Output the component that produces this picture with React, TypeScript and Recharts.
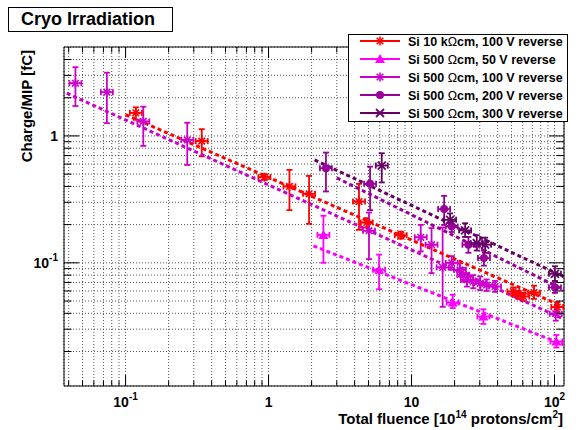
import React from "react";
import { ScatterChart, Scatter, XAxis, YAxis, CartesianGrid, ErrorBar, ReferenceArea } from "recharts";

const FONT = '"Liberation Sans", Arial, Helvetica, sans-serif';
const W = 585;
const H = 430;
const LEFT = 64, TOP = 47, RIGHT = 564, BOTTOM = 386;

const X_DOMAIN = [0.0371, 116.5];
const Y_DOMAIN = [0.0107, 5.02];

const xTicks = [0.04, 0.05, 0.06, 0.07, 0.08, 0.09, 0.1, 0.2, 0.3, 0.4, 0.5, 0.6, 0.7, 0.8, 0.9,
    1, 2, 3, 4, 5, 6, 7, 8, 9, 10, 20, 30, 40, 50, 60, 70, 80, 90, 100];
const yTicks = [0.02, 0.03, 0.04, 0.05, 0.06, 0.07, 0.08, 0.09, 0.1, 0.2, 0.3, 0.4, 0.5, 0.6, 0.7, 0.8, 0.9, 1, 2, 3, 4];

// Si 10 kOhm cm, 100 V
const si10kX = [0.118, 0.341, 0.935, 1.40, 1.92, 4.29, 4.86, 8.4, 51.5, 55.9, 60.5, 71.9, 104.6];
const si10kY = [1.52, 0.91, 0.473, 0.40, 0.35, 0.304, 0.208, 0.165, 0.0594, 0.056, 0.0543, 0.0583, 0.0448];
const si10kLo = [1.34, 0.69, 0.45, 0.26, 0.203, 0.182, 0.19, 0.155, 0.055, 0.052, 0.050, 0.052, 0.041];
const si10kHi = [1.68, 1.13, 0.50, 0.54, 0.484, 0.419, 0.225, 0.176, 0.064, 0.060, 0.058, 0.066, 0.049];

// Si 500 Ohm cm, 50 V
const si50X = [2.42, 5.93, 19.4, 31.8, 103];
const si50Y = [0.166, 0.088, 0.0487, 0.0378, 0.024];
const si50Lo = [0.10, 0.062, 0.044, 0.033, 0.0215];
const si50Hi = [0.235, 0.116, 0.056, 0.043, 0.027];

// Si 500 Ohm cm, 100 V
const si100X = [0.0446, 0.074, 0.133, 0.270, 5.04, 11.6, 13.8, 16.5, 19.1, 21.8, 23, 24.4, 27, 30.2, 33.5, 38.4, 102];
const si100Y = [2.6, 2.21, 1.30, 0.93, 0.179, 0.159, 0.139, 0.092, 0.1, 0.088, 0.0805, 0.0735, 0.0712, 0.069, 0.0668, 0.0651, 0.0397];
const si100Lo = [1.72, 1.26, 0.834, 0.59, 0.107, 0.123, 0.083, 0.045, 0.088, 0.078, 0.071, 0.065, 0.063, 0.061, 0.06, 0.059, 0.035];
const si100Hi = [3.48, 3.15, 1.70, 1.27, 0.249, 0.199, 0.188, 0.19, 0.113, 0.099, 0.091, 0.083, 0.08, 0.078, 0.074, 0.072, 0.045];

// Si 500 Ohm cm, 200 V
const si200X = [2.52, 5.13, 16.9, 19.1, 25, 32.1, 100.7];
const si200Y = [0.557, 0.419, 0.265, 0.193, 0.139, 0.109, 0.064];
const si200Lo = [0.365, 0.26, 0.199, 0.175, 0.12, 0.095, 0.058];
const si200Hi = [0.739, 0.573, 0.337, 0.213, 0.16, 0.125, 0.071];

// Si 500 Ohm cm, 300 V
const si300X = [6.19, 18.6, 23.7, 28.6, 32.7, 100.7];
const si300Y = [0.584, 0.218, 0.18, 0.143, 0.139, 0.082];
const si300Lo = [0.43, 0.195, 0.16, 0.125, 0.12, 0.072];
const si300Hi = [0.73, 0.245, 0.205, 0.165, 0.158, 0.094];

// fit lines (end points)
const fit10kX = [0.1, 116];
const fit10kY = [1.47, 0.045];
const fit50X = [2.06, 116];
const fit50Y = [0.136, 0.0226];
const fit100X = [0.0388, 116];
const fit100Y = [2.17, 0.036];
const fit200X = [3.0, 116];
const fit200Y = [0.467, 0.0613];
const fit300X = [2.1, 116];
const fit300Y = [0.647, 0.0776];

type Kind = 'star' | 'triangle' | 'circle' | 'cross';

const SERIES = [
    { name: 'Si 10 kΩcm, 100 V reverse', color: '#ff0000', kind: 'star' as Kind, xs: si10kX, ys: si10kY, lo: si10kLo, hi: si10kHi, fx: fit10kX, fy: fit10kY },
    { name: 'Si 500 Ωcm, 50 V reverse', color: '#ff00ff', kind: 'triangle' as Kind, xs: si50X, ys: si50Y, lo: si50Lo, hi: si50Hi, fx: fit50X, fy: fit50Y },
    { name: 'Si 500 Ωcm, 100 V reverse', color: '#cc00cc', kind: 'star' as Kind, xs: si100X, ys: si100Y, lo: si100Lo, hi: si100Hi, fx: fit100X, fy: fit100Y },
    { name: 'Si 500 Ωcm, 200 V reverse', color: '#990099', kind: 'circle' as Kind, xs: si200X, ys: si200Y, lo: si200Lo, hi: si200Hi, fx: fit200X, fy: fit200Y },
    { name: 'Si 500 Ωcm, 300 V reverse', color: '#660066', kind: 'cross' as Kind, xs: si300X, ys: si300Y, lo: si300Lo, hi: si300Hi, fx: fit300X, fy: fit300Y },
];

const isDecade = (v: number) => {
    const e = Math.log10(v);
    return Math.abs(e - Math.round(e)) < 1e-6;
};

function decadeText(v: number) {
    const e = Math.round(Math.log10(v));
    if (e === 0) return '1';
    if (e === 1) return '10';
    return <>10<tspan dy={-7} fontSize={10}>{e}</tspan></>;
}

function Marker({ cx, cy, kind, color }: { cx: number; cy: number; kind: Kind; color: string }) {
    if (kind === 'triangle')
        return <polygon points={`${cx},${cy - 5} ${cx - 5},${cy + 4} ${cx + 5},${cy + 4}`} fill={color} />;
    if (kind === 'circle') return <circle cx={cx} cy={cy} r={4} fill={color} />;
    if (kind === 'cross')
        return (
            <g stroke={color} strokeWidth={1.8}>
                <line x1={cx - 4} x2={cx + 4} y1={cy - 4} y2={cy + 4} />
                <line x1={cx - 4} x2={cx + 4} y1={cy + 4} y2={cy - 4} />
            </g>
        );
    return (
        <g stroke={color} strokeWidth={1.6}>
            <line x1={cx - 4.5} x2={cx + 4.5} y1={cy} y2={cy} />
            <line x1={cx} x2={cx} y1={cy - 4.5} y2={cy + 4.5} />
            <line x1={cx - 3.3} x2={cx + 3.3} y1={cy - 3.3} y2={cy + 3.3} />
            <line x1={cx - 3.3} x2={cx + 3.3} y1={cy + 3.3} y2={cy - 3.3} />
        </g>
    );
}

function PointShape(props: any) {
    const { cx, cy, kind, color } = props;
    if (cx == null || cy == null) return <g />;
    return (
        <g>
            <g stroke={color} strokeWidth={1.8}>
                <line x1={cx - 6} x2={cx + 6} y1={cy} y2={cy} />
                <line x1={cx - 6} x2={cx - 6} y1={cy - 3} y2={cy + 3} />
                <line x1={cx + 6} x2={cx + 6} y1={cy - 3} y2={cy + 3} />
            </g>
            <Marker cx={cx} cy={cy} kind={kind} color={color} />
        </g>
    );
}

function XTick({ x, payload }: any) {
    const v = payload.value;
    const major = isDecade(v);
    const len = major ? 11 : 5.5;
    return (
        <g>
            <line x1={x} x2={x} y1={BOTTOM} y2={BOTTOM - len} stroke="#000" />
            <line x1={x} x2={x} y1={TOP} y2={TOP + len} stroke="#000" />
            {major && (
                <text x={x} y={407} textAnchor="middle" fontFamily={FONT} fontWeight="bold" fontSize={14} fill="#000">
                    {decadeText(v)}
                </text>
            )}
        </g>
    );
}

function YTick({ y, payload }: any) {
    const v = payload.value;
    const major = isDecade(v);
    const len = major ? 15 : 7.5;
    return (
        <g>
            <line x1={LEFT} x2={LEFT + len} y1={y} y2={y} stroke="#000" />
            <line x1={RIGHT} x2={RIGHT - len} y1={y} y2={y} stroke="#000" />
            {major && (
                <text x={58} y={y + 5} textAnchor="end" fontFamily={FONT} fontWeight="bold" fontSize={14} fill="#000">
                    {decadeText(v)}
                </text>
            )}
        </g>
    );
}

function XTitle() {
    return (
        <text x={563} y={424} textAnchor="end" fontFamily={FONT} fontWeight="bold" fontSize={15} fill="#000">
            Total fluence [10<tspan dy={-6} fontSize={10}>14</tspan>
            <tspan dy={6}> protons/cm</tspan>
            <tspan dy={-6} fontSize={10}>2</tspan>
            <tspan dy={6}>]</tspan>
        </text>
    );
}

function YTitle() {
    return (
        <text x={32} y={50} transform="rotate(-90 32 50)" textAnchor="end" fontFamily={FONT} fontWeight="bold" fontSize={15} fill="#000">
            Charge/MIP [fC]
        </text>
    );
}

function LegendBox() {
    const rows = [41, 59, 77, 95, 113];
    return (
        <svg width={222} height={90} style={{ position: 'absolute', left: 347, top: 33 }}>
            <rect x={1.5} y={1.5} width={219} height={87} fill="#fff" stroke="#000" strokeWidth={1} />
            {SERIES.map((s, i) => {
                const cy = rows[i] - 33;
                const parts = s.name.split('Ω');
                return (
                    <g key={s.name}>
                        <line x1={13} x2={53} y1={cy} y2={cy} stroke={s.color} strokeWidth={1.8} />
                        <Marker cx={33} cy={cy} kind={s.kind} color={s.color} />
                        <text x={61} y={cy + 4.5} fontFamily={FONT} fontWeight="bold" fontSize={12.5} fill="#000">
                            {parts[0]}<tspan fontWeight="normal">Ω</tspan>{parts[1]}
                        </text>
                    </g>
                );
            })}
        </svg>
    );
}

export default function App() {
    return (
        <div style={{ position: 'absolute', left: 0, top: 0, width: W, height: H, background: '#fff', fontFamily: FONT }}>
            <ScatterChart width={W} height={H} margin={{ top: TOP, right: W - RIGHT, bottom: 0, left: 0 }}>
                <CartesianGrid stroke="#555" strokeDasharray="1 2" strokeWidth={1} />
                <XAxis
                    dataKey="x"
                    type="number"
                    scale="log"
                    domain={X_DOMAIN}
                    allowDataOverflow
                    ticks={xTicks}
                    interval={0}
                    height={H - BOTTOM}
                    axisLine={false}
                    tickLine={false}
                    tick={<XTick />}
                    label={<XTitle />}
                />
                <YAxis
                    dataKey="y"
                    type="number"
                    scale="log"
                    domain={Y_DOMAIN}
                    allowDataOverflow
                    ticks={yTicks}
                    interval={0}
                    width={LEFT}
                    axisLine={false}
                    tickLine={false}
                    tick={<YTick />}
                    label={<YTitle />}
                />
                {SERIES.map(s => (
                    <Scatter
                        key={'fit' + s.name}
                        data={s.fx.map((x, i) => ({ x, y: s.fy[i] }))}
                        line={{ stroke: s.color, strokeWidth: 3, strokeDasharray: '4 3' }}
                        lineType="joint"
                        shape={() => <g />}
                        isAnimationActive={false}
                    />
                ))}
                {SERIES.map(s => (
                    <Scatter
                        key={s.name}
                        name={s.name}
                        data={s.xs.map((x, i) => ({ x, y: s.ys[i], ey: [s.ys[i] - s.lo[i], s.hi[i] - s.ys[i]] }))}
                        fill={s.color}
                        shape={(p: any) => <PointShape {...p} kind={s.kind} color={s.color} />}
                        isAnimationActive={false}
                    >
                        <ErrorBar dataKey="ey" direction="y" width={3} stroke={s.color} strokeWidth={1.8} isAnimationActive={false} />
                    </Scatter>
                ))}
                <ReferenceArea x1={X_DOMAIN[0]} x2={X_DOMAIN[1]} y1={Y_DOMAIN[0]} y2={Y_DOMAIN[1]} fill="none" stroke="#000" strokeWidth={1} ifOverflow="visible" />
            </ScatterChart>
            <div style={{
                position: 'absolute', left: 8, top: 7, width: 165, height: 25, boxSizing: 'border-box',
                border: '1px solid #000', background: '#fff', textAlign: 'center', lineHeight: '23px',
                fontFamily: FONT, fontWeight: 'bold', fontSize: 18, paddingRight: 5,
            }}>
                Cryo Irradiation
            </div>
            <LegendBox />
        </div>
    );
}
